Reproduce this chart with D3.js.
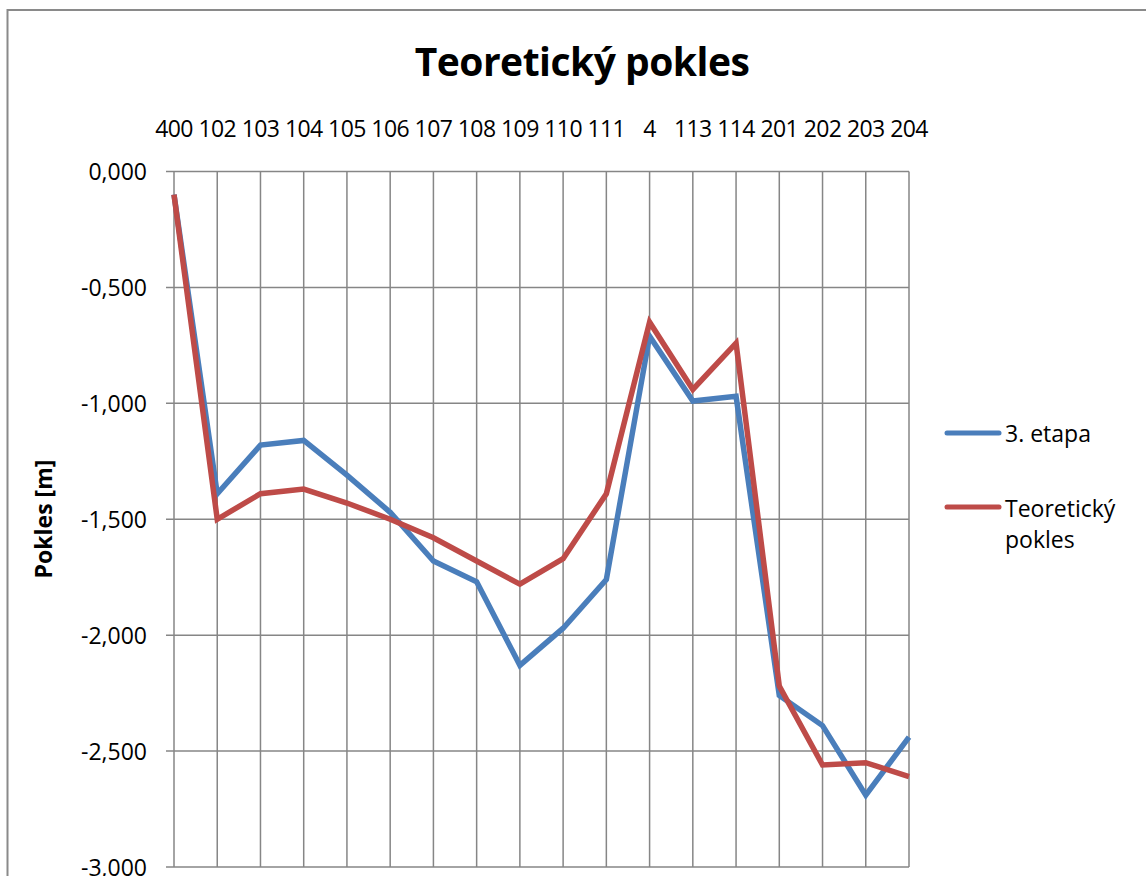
<!DOCTYPE html>
<html>
<head>
<meta charset="utf-8">
<script src="https://cdn.jsdelivr.net/npm/d3@7"></script>
<style>
  body { margin: 0; background: #fff; }
  text { font-family: "Open Sans", sans-serif; fill: #000; }
</style>
</head>
<body>
<div id="chart"></div>
<script>
// point labels (category axis, drawn on top)
var categories = ["400", "102", "103", "104", "105", "106", "107", "108", "109",
                  "110", "111", "4", "113", "114", "201", "202", "203", "204"];

// 3. etapa
var etapa3 = [-0.10, -1.39, -1.18, -1.16, -1.31, -1.47, -1.68, -1.77, -2.13,
              -1.97, -1.76, -0.71, -0.99, -0.97, -2.26, -2.39, -2.69, -2.44];

// Teoreticky pokles
var teoreticky = [-0.10, -1.50, -1.39, -1.37, -1.43, -1.50, -1.58, -1.68, -1.78,
                  -1.67, -1.39, -0.65, -0.94, -0.74, -2.22, -2.56, -2.55, -2.61];

var yTicks = [0, -0.5, -1, -1.5, -2, -2.5, -3];

var series = [
  {name: "3. etapa", values: etapa3, color: "#4a7ebb"},
  {name: "Teoretický pokles", values: teoreticky, color: "#be4b48"}
];

var width = 1146, height = 876;

var svg = d3.select("#chart").append("svg")
    .attr("width", width)
    .attr("height", height);

// chart frame (right and bottom edges fall outside the picture)
svg.append("rect")
   .attr("x", 7.5).attr("y", 10)
   .attr("width", 1200).attr("height", 1000)
   .attr("fill", "#fff")
   .attr("stroke", "#8a8a8a")
   .attr("stroke-width", 2);

var xScale = d3.scalePoint()
      .domain(categories)
      .range([174, 909]),
    yScale = d3.scaleLinear()
      .domain([0, -3])
      .range([171.5, 867]);

// title
svg.append("text")
   .attr("x", 582).attr("y", 76)
   .attr("text-anchor", "middle")
   .style("font-weight", "bold")
   .style("font-size", "39px")
   .style("letter-spacing", "-0.5px")
   .text("Teoretický pokles");

// horizontal gridlines with small ticks to the left
var grid = svg.append("g").attr("class", "grid");
grid.selectAll("line.h")
    .data(yTicks).enter()
    .append("line")
    .attr("class", "h")
    .attr("x1", 166).attr("x2", 909)
    .attr("y1", function(d) { return yScale(d); })
    .attr("y2", function(d) { return yScale(d); })
    .attr("stroke", "#868686")
    .attr("stroke-width", 1.5);

// vertical gridlines, one per point
grid.selectAll("line.v")
    .data(categories).enter()
    .append("line")
    .attr("class", "v")
    .attr("x1", function(d) { return xScale(d); })
    .attr("x2", function(d) { return xScale(d); })
    .attr("y1", yScale(0)).attr("y2", yScale(-3))
    .attr("stroke", "#868686")
    .attr("stroke-width", 1.5);

// y tick labels
var fmt = function(v) { return d3.format(".3f")(v).replace(".", ",").replace("−", "-"); };
svg.append("g").selectAll("text")
   .data(yTicks).enter()
   .append("text")
   .attr("x", 147)
   .attr("y", function(d) { return yScale(d) + 8.5; })
   .attr("text-anchor", "end")
   .style("font-size", "23px")
   .text(fmt);

// category labels along the top
svg.append("g").selectAll("text")
   .data(categories).enter()
   .append("text")
   .attr("x", function(d) { return xScale(d); })
   .attr("y", 137)
   .attr("text-anchor", "middle")
   .style("font-size", "23px")
   .style("letter-spacing", "-0.6px")
   .text(function(d) { return d; });

// axis title
svg.append("text")
   .attr("transform", "translate(52,519) rotate(-90)")
   .attr("text-anchor", "middle")
   .style("font-weight", "bold")
   .style("font-size", "23px")
   .text("Pokles [m]");

// lines
var line = d3.line()
    .x(function(d, i) { return xScale(categories[i]); })
    .y(function(d) { return yScale(d); });

svg.append("g").selectAll("path")
   .data(series).enter()
   .append("path")
   .attr("d", function(s) { return line(s.values); })
   .attr("fill", "none")
   .attr("stroke", function(s) { return s.color; })
   .attr("stroke-width", 5.5)
   .attr("stroke-linejoin", "miter");

// legend
var legend = svg.append("g");
var legendY = [433, 507];
legend.selectAll("line")
      .data(series).enter()
      .append("line")
      .attr("x1", 947).attr("x2", 999)
      .attr("y1", function(d, i) { return legendY[i]; })
      .attr("y2", function(d, i) { return legendY[i]; })
      .attr("stroke", function(s) { return s.color; })
      .attr("stroke-width", 5)
      .attr("stroke-linecap", "round");

legend.append("text")
      .attr("x", 1005).attr("y", 442)
      .style("font-size", "23px")
      .text("3. etapa");

var t2 = legend.append("text")
      .attr("x", 1005).attr("y", 517)
      .style("font-size", "23px");
t2.append("tspan").attr("x", 1005).text("Teoretický");
t2.append("tspan").attr("x", 1005).attr("dy", 31).text("pokles");
</script>
</body>
</html>
